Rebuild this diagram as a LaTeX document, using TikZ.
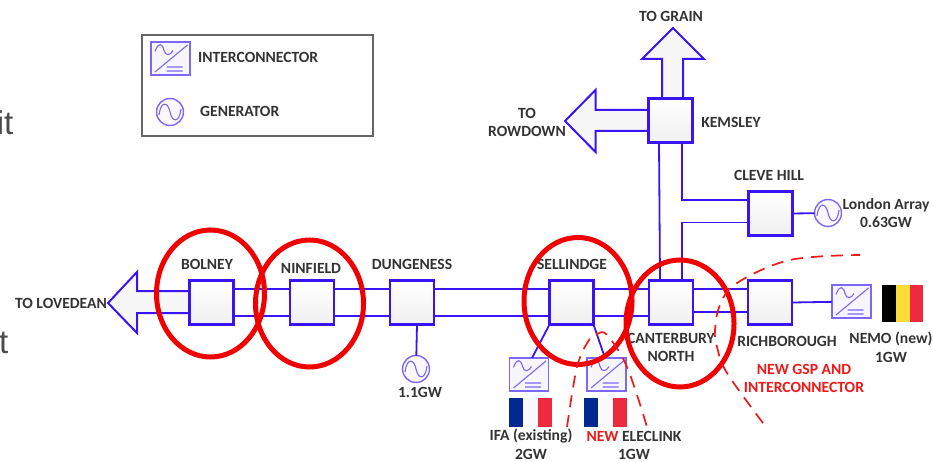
\documentclass[tikz,border=0pt]{standalone}
\usepackage{fontspec}
\setmainfont{Carlito}
\newfontfamily\slidefont{Liberation Sans}
\usetikzlibrary{shapes.geometric}
\definecolor{busblue}{HTML}{3A14F5}
\definecolor{symblue}{HTML}{7B68F8}
\definecolor{ringred}{HTML}{F00000}
\definecolor{dashred}{HTML}{F01818}
\definecolor{frblue}{HTML}{002A8F}
\definecolor{frred}{HTML}{EE2B3E}
\definecolor{beyellow}{HTML}{FBDD3A}
\tikzset{
  substation/.style={rectangle, draw=busblue, line width=2.1pt, top color=white, bottom color=gray!12, minimum width=44pt, minimum height=44pt, outer sep=0pt},
  bus/.style={draw=busblue, line width=1.8pt},
  blockarrow/.style={draw=busblue, line width=2pt, fill=gray!6, line join=miter},
  ring/.style={ellipse, draw=ringred, line width=5pt, outer sep=0pt, minimum width=108pt, minimum height=127pt},
  newarea/.style={draw=dashred, line width=1.7pt, dash pattern=on 12pt off 8pt},
  lbl/.style={font=\fontsize{15.6}{18.8}\selectfont\bfseries, text=black!80, inner sep=0pt},
  redlbl/.style={lbl, text=dashred},
  converter/.style={rectangle, draw=symblue, line width=1.5pt, fill=symblue!6, minimum width=39pt, minimum height=33pt, outer sep=0pt,
    path picture={
      \draw[symblue, line width=1.1pt, shift={(path picture bounding box.center)}]
        (-15.5,13.5) -- (17,-13.5)
        (-15.5,-7) .. controls (-12,-17) and (-8,-15) .. (-6.5,-8) .. controls (-5,-2) and (0,-3) .. (2.5,-8)
        (-4,8.5) -- (12,8.5) (-4,12.5) -- (12,12.5);
    }},
  generator/.style={circle, draw=symblue, line width=1.4pt, fill=symblue!4, minimum size=27pt, inner sep=0pt, outer sep=0pt,
    path picture={
      \draw[symblue, line width=1.1pt, shift={(path picture bounding box.center)}]
        (-11,3) .. controls (-9,-12) and (-2,-10) .. (0,0) .. controls (2,10) and (9,12) .. (11,-3);
    }},
}
\begin{document}
\begin{tikzpicture}[x=1pt, y=-1pt, every node/.style={align=center}]
    \useasboundingbox (0,0) rectangle (933,462);

    % text of the slide behind the picture
    \node[anchor=base east, inner sep=0pt, text=black!70, font=\slidefont\fontsize{33}{33}\selectfont] (slideone) at (13.5,135) {it};
    \node[anchor=base east, inner sep=0pt, text=black!70, font=\slidefont\fontsize{33}{33}\selectfont] (slidetwo) at (8.5,353) {t};

    % legend
    \node[rectangle, draw=black!60, line width=1.3pt, fill=white, minimum width=231pt, minimum height=101pt, outer sep=0pt] (legend) at (257.5,85.5) {};
    \node[converter] (legconv) at (170.5,58.5) {};
    \node[generator] (leggen) at (170,112) {};
    \node[lbl, anchor=west] (leglblconv) at (198,57.5) {INTERCONNECTOR};
    \node[lbl, anchor=west] (leglblgen) at (200,111) {GENERATOR};

    % block arrows
    \filldraw[blockarrow] (190,291) -- (137,291) -- (137,272) -- (108,303) -- (137,333) -- (137,313) -- (190,313);
    \filldraw[blockarrow] (662,99) -- (662,59) -- (642,59) -- (673,28) -- (704,59) -- (683,59) -- (683,99);
    \filldraw[blockarrow] (649,110) -- (595.5,110) -- (595.5,90) -- (565,121) -- (595.5,152) -- (595.5,131) -- (649,131);

    % substations
    \node[substation] (bolney) at (211.5,302.5) {};
    \node[substation] (ninfield) at (312,302.5) {};
    \node[substation] (dungeness) at (412,302.5) {};
    \node[substation] (sellindge) at (571.5,302.5) {};
    \node[substation] (canterbury) at (671,302.5) {};
    \node[substation] (richborough) at (770,302.5) {};
    \node[substation] (kemsley) at (670.5,120.5) {};
    \node[substation] (clevehill) at (770.5,213.5) {};

    % double busbars
    \foreach \a/\b in {bolney/ninfield, ninfield/dungeness, dungeness/sellindge, sellindge/canterbury}
        \draw[bus] ([yshift=13.4pt]\a.east) -- ([yshift=13.4pt]\b.west)
                   ([yshift=-13.2pt]\a.east) -- ([yshift=-13.2pt]\b.west);
    \draw[bus] ([yshift=13.4pt]canterbury.east) -- ([yshift=13.4pt]richborough.west)
               ([yshift=-9.5pt]canterbury.east) -- ([yshift=-9.5pt]richborough.west);
    \draw[bus] ([xshift=-11.5pt]kemsley.south) -- ([xshift=-11pt]canterbury.north);
    \draw[bus] ([xshift=11.5pt]kemsley.south) |- ([yshift=13.4pt]clevehill.west);
    \draw[bus] ([xshift=11pt]canterbury.north) |- ([yshift=-9pt]clevehill.west);

    % generators and interconnectors
    \node[generator] (gendungeness) at (416,369) {};
    \node[generator] (genlondon) at (828,213) {};
    \node[converter] (convnemo) at (851.5,301.5) {};
    \node[converter] (convifa) at (529,374.5) {};
    \node[converter] (convelec) at (606.5,374.5) {};
    \draw[bus] ([xshift=5pt]dungeness.south) -- (gendungeness);
    \draw[bus] (clevehill.east) -- (genlondon);
    \draw[bus] (richborough.east) -- (convnemo);
    \draw[bus] (sellindge.south west) -- ([xshift=3pt]convifa.north);
    \draw[bus] (sellindge.south east) -- ([xshift=-1.5pt]convelec.north);

    % flags
    \fill[black] (882,285) rectangle (896,322);
    \fill[beyellow] (896,285) rectangle (909.5,322);
    \fill[frred] (909.5,285) rectangle (923,322);
    \foreach \fx in {509,584} {
        \fill[frblue] (\fx,398) rectangle (\fx+14,427);
        \fill[black!2] (\fx+14,398) rectangle (\fx+28.5,427);
        \fill[frred] (\fx+28.5,398) rectangle (\fx+43,427);
    }

    % labels
    \node[lbl] (lblgrain) at (671,16) {TO GRAIN};
    \node[lbl] (lblrowdown) at (527,122.5) {TO\\ROWDOWN};
    \node[lbl] (lbllovedean) at (61,303.5) {TO LOVEDEAN};
    \node[lbl] (lblkemsley) at (731,122) {KEMSLEY};
    \node[lbl] (lblcleve) at (769,175) {CLEVE HILL};
    \node[lbl] (lbllondon) at (886,213) {London Array\\0.63GW};
    \node[lbl] (lblbolney) at (207,264) {BOLNEY};
    \node[lbl] (lblninfield) at (311,268) {NINFIELD};
    \node[lbl] (lbldungeness) at (412,264) {DUNGENESS};
    \node[lbl] (lblgentwo) at (420,392) {1.1GW};
    \node[lbl] (lblsellindge) at (572,264) {SELLINDGE};
    \node[lbl] (lblcanterbury) at (671,347.5) {CANTERBURY\\NORTH};
    \node[lbl] (lblrichborough) at (787,341) {RICHBOROUGH};
    \node[lbl] (lblnemo) at (891,347.5) {NEMO (new)\\1GW};
    \node[lbl] (lblifa) at (531,444.5) {IFA (existing)\\2GW};
    \node[lbl] (lblelec) at (634,445.5) {\textcolor{dashred}{NEW} ELECLINK\\1GW};
    \node[redlbl] (lblgsp) at (804,378.5) {NEW GSP AND\\INTERCONNECTOR};

    % highlighted sites
    \node[ring] (ringbolney) at (210.5,293.5) {};
    \node[ring] (ringninfield) at (309.5,303.5) {};
    \node[ring] (ringsellindge) at (578,301) {};
    \node[ring] (ringcanterbury) at (680,323.5) {};

    % new works
    \draw[newarea] plot[smooth, tension=.6] coordinates {(763,423) (727,373) (717,347) (715,330) (720,305) (737,283) (790,260) (860,255)};
    \draw[newarea] plot[smooth, tension=.6] coordinates {(567,427) (577,367) (589,340) (597,334) (607,335) (627,367) (647,427)};
\end{tikzpicture}
\end{document}
